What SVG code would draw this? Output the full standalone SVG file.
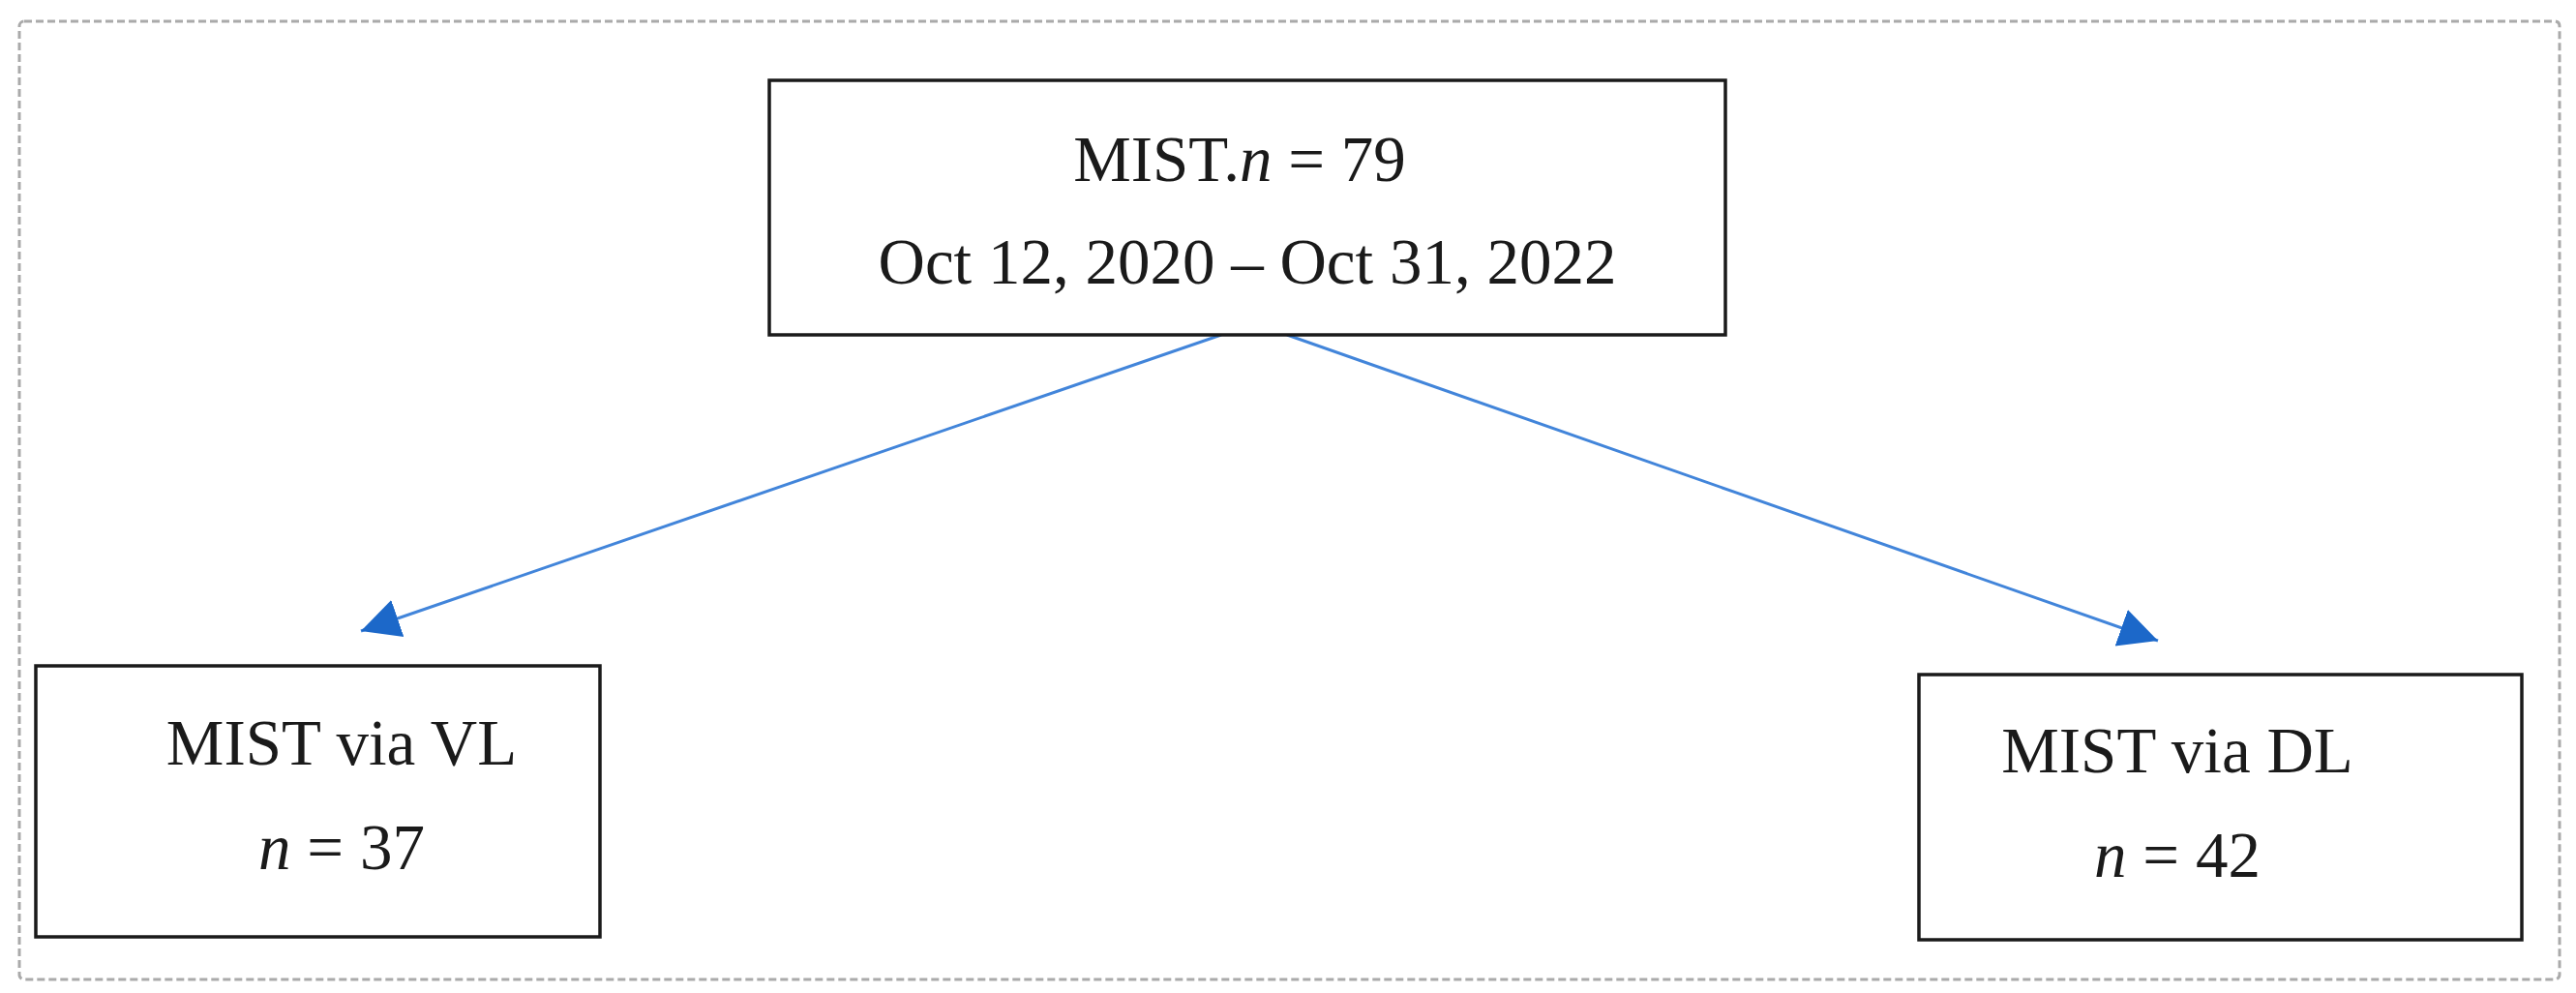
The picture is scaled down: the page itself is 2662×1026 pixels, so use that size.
<svg xmlns="http://www.w3.org/2000/svg" width="2662" height="1026" viewBox="0 0 2662 1026">
<style>
.box{fill:#fff;stroke:#1a1a1a;stroke-width:3.5}
.t{font-family:"Liberation Serif","Times New Roman",serif;font-size:67px;fill:#1a1a1a;text-anchor:middle}
.i{font-style:italic}
.edge{stroke:#4285da;stroke-width:3;fill:none}
</style>
<defs>
<marker id="ah" markerUnits="userSpaceOnUse" markerWidth="42" markerHeight="42" viewBox="0 -21 42 42" refX="40" refY="0" orient="auto">
<path d="M0,-20 L40,0 L0,20 z" fill="#1c68c9"/>
</marker>
</defs>
<rect width="2662" height="1026" fill="#fff"/>
<rect x="20" y="22" width="2625" height="990" rx="5" fill="none" stroke="#aaaaaa" stroke-width="3" stroke-dasharray="8 4"/>
<g id="connectors">
<line class="edge" x1="1262" y1="346" x2="373" y2="652" marker-end="url(#ah)"/>
<line class="edge" x1="1330" y1="346" x2="2230" y2="662" marker-end="url(#ah)"/>
</g>
<g id="node-total">
<rect class="box" x="795" y="83" width="988" height="263"/>
<text class="t" x="1281" y="187">MIST.<tspan class="i">n</tspan> = 79</text>
<text class="t" x="1289" y="293">Oct 12, 2020 – Oct 31, 2022</text>
</g>
<g id="node-vl">
<rect class="box" x="37" y="688" width="583" height="280"/>
<text class="t" x="353" y="790">MIST via VL</text>
<text class="t" x="353" y="898"><tspan class="i">n</tspan> = 37</text>
</g>
<g id="node-dl">
<rect class="box" x="1983" y="697" width="623" height="274"/>
<text class="t" x="2250" y="798">MIST via DL</text>
<text class="t" x="2250" y="906"><tspan class="i">n</tspan> = 42</text>
</g>
</svg>
